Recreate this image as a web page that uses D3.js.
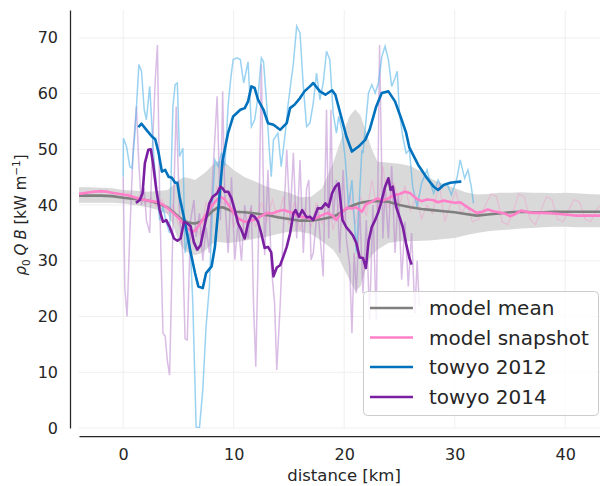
<!DOCTYPE html>
<html>
<head>
<meta charset="utf-8">
<script src="https://cdn.jsdelivr.net/npm/d3@7"></script>
<style>
  body { margin: 0; background: #fff; }
  text { font-family: "DejaVu Sans", sans-serif; fill: #262626; }
</style>
</head>
<body>
<div id="chart"></div>
<script>
// model: ensemble mean and spread
const bandX = [-4,-3,-2,-1,0,1,2,3,4,4.5,5,5.5,6,6.5,7,7.5,8,8.5,9,9.5,10,11,12,13,14,15,16,17,18,19,19.5,20,20.5,21,21.5,22,22.5,23,24,25,26,27,28,29,30,31,32,33,34,35,36,37,38,39,40,41,42,43.2];
const meanY = [41.7,41.7,41.7,41.6,41.3,41.1,40.9,40.4,39.6,38.8,37.9,37.2,36.8,36.7,37.0,37.8,38.8,39.5,39.6,39.2,38.8,38.7,38.5,38.2,37.8,37.5,37.2,37.2,37.5,37.9,38.4,39.1,39.7,40.1,40.4,40.6,40.7,40.7,40.6,40.0,39.6,39.3,39.1,38.9,38.7,38.4,38.1,38.3,38.5,38.7,38.8,38.7,38.7,38.8,38.8,38.8,38.8,38.8];
const bandHi = [43.2,43.2,43.1,43.0,42.7,42.6,42.4,42.5,42.7,43.5,44.5,45.0,44.8,44.5,45.2,46.0,47.0,47.8,48.0,47.2,46.3,45.0,44.2,43.3,42.7,42.2,41.4,41.5,43.0,47.6,50.5,53.5,56.0,57.2,56.0,53.0,50.0,47.8,47.6,47.4,47.0,46.0,44.6,43.8,43.0,42.3,41.9,42.0,42.2,42.2,42.3,42.2,42.2,42.1,42.2,42.1,42.0,41.9];
const bandLo = [40.4,40.4,40.4,40.4,40.3,40.0,39.7,39.2,38.4,36.5,33.5,32.0,31.3,31.0,31.3,32.0,33.0,33.4,33.3,33.2,33.3,33.6,34.0,34.3,34.8,35.2,35.2,34.8,33.5,32.0,30.5,28.5,26.5,24.5,25.5,29.0,31.0,32.0,33.2,33.5,33.5,33.6,33.7,33.9,34.1,34.6,35.0,35.3,35.5,35.6,35.8,35.9,36.0,36.1,36.1,36.0,36.0,36.0];

// model snapshot (smoothed and raw)
const snapX = [-4,-3,-2,-1.5,-1,0,0.5,1,1.5,2,2.5,3,3.5,4,4.5,5,5.5,6,6.3,6.6,7,7.5,8,8.5,8.8,9.2,9.6,10,10.5,11,11.5,12,12.5,13,13.5,14,14.5,15,15.5,16,16.5,17,17.5,18,18.5,19,19.3,19.7,20.2,20.7,21.1,21.6,22,22.5,23,23.5,24,24.5,25,25.5,26,26.5,27,27.5,28,28.5,29,29.5,30,30.5,31,31.5,32,32.5,33,33.5,34,34.5,35,35.5,36,36.5,37,38,39,40,41,42,43.2];
const snapY = [42.0,42.3,42.5,42.4,42.2,41.9,41.7,41.4,41.1,40.9,40.7,40.6,40.2,39.5,38.6,37.7,36.5,35.5,35.2,35.6,36.8,38.3,39.8,41.0,41.5,41.0,39.8,38.6,37.5,37.0,37.2,37.5,38.0,38.6,38.5,38.9,39.1,38.8,38.5,37.9,37.8,37.5,37.7,38.2,38.6,38.0,37.3,38.5,39.5,39.4,39.6,38.8,40.2,40.6,41.2,40.8,41.2,41.8,42.0,42.4,42.1,41.2,40.7,41.0,40.9,40.5,40.8,40.6,40.4,40.5,39.8,39.2,38.6,38.8,39.2,38.9,38.7,38.5,38.0,38.4,39.0,38.8,38.6,38.6,38.5,38.3,38.1,38.1,38.1];
const snapRawX = [-4,-3.5,-3,-2.5,-2,-1.5,-1,-0.5,0,0.5,1,1.5,2,2.5,3,3.5,4,4.5,5,5.5,6,6.5,7,7.5,8,8.5,9,9.5,10,10.5,11,11.5,12,12.5,13,13.5,14,14.5,15,15.5,16,16.5,17,17.5,18,18.5,19,19.5,20,20.5,21,21.5,22,22.5,23,23.5,24,24.5,25,25.5,26,26.5,27,27.5,28,28.6,29.1,29.6,30.1,30.6,31.1,31.6,32.2,32.8,33.3,33.8,34.3,34.8,35.3,35.8,36.3,36.8,37.3,37.8,38.3,38.8,39.3,39.8,40.3,40.8,41.3,41.8,42.3,42.8,43.2];
const snapRawY = [41.8,42.0,42.4,42.6,42.3,42.7,42.0,42.1,41.5,42.2,41.0,41.8,40.2,41.3,39.8,41.0,38.5,40.0,36.5,38.0,33.5,36.0,34.5,40.5,38.0,43.5,40.0,42.5,36.0,39.0,35.0,39.5,36.0,40.5,37.0,41.0,37.5,41.5,36.5,40.5,35.5,39.5,36.0,40.5,36.5,41.0,35.5,40.0,37.0,42.0,36.5,41.5,38.0,44.5,39.0,47.0,39.5,44.0,40.0,43.5,39.0,41.5,37.5,40.0,38.5,44.0,37.0,40.0,42.5,38.5,40.0,37.0,37.5,40.0,42.0,41.5,37.0,36.5,39.0,42.0,41.5,37.5,36.5,39.0,41.5,41.0,37.5,37.0,39.0,41.0,40.5,37.5,37.0,39.0,40.0];

// towyo 2012 (raw and smoothed)
const t12RawX = [0,0.02,0.3,0.6,0.8,1.06,1.27,1.42,1.66,1.9,2.1,2.4,2.7,3.0,3.3,3.6,3.9,4.2,4.5,4.7,4.9,5.1,5.4,5.6,5.9,6.1,6.3,6.6,6.9,7.2,7.5,7.8,8.1,8.3,8.6,8.9,9.2,9.5,9.75,9.95,10.3,10.6,10.9,11.3,11.6,11.9,12.2,12.5,12.7,13.0,13.2,13.4,13.6,14.0,14.3,14.7,14.9,15.4,15.7,16.0,16.3,16.6,16.9,17.2,17.5,17.8,18.1,18.4,18.7,19.0,19.3,19.5,19.8,20.1,20.4,20.7,21.1,21.4,21.6,21.7,22.2,22.5,22.8,23.1,23.4,23.7,24.0,24.3,24.6,24.8,25.0,25.3,25.6,25.9,26.2,26.6,27.0,27.5,27.8,28.1,28.5,28.8,29.3,29.7,30.2,30.5,30.9,31.2,31.5,31.7];
const t12RawY = [45.1,52.0,50.5,46.9,46.6,52.9,60.0,65.2,64.0,57.1,55.3,61.3,50.5,43.3,37.3,39.7,36.8,35.0,57.7,61.6,61.9,48.7,50.2,31.4,35.0,31.4,22.4,0.2,0.0,6.8,18.2,25.4,40.9,48.1,46.9,49.4,47.0,58.0,63.0,66.1,66.4,66.1,61.9,65.7,54.1,55.3,59.5,66.4,65.7,57.7,50.5,45.1,51.7,52.9,46.9,53.5,57.7,65.4,72.1,70.9,61.3,54.1,54.7,58.3,63.7,58.9,61.9,67.6,66.1,56.5,52.9,55.9,53.5,48.1,39.7,44.5,31.5,42.1,49.9,49.3,60.1,61.6,60.1,61.9,66.6,68.5,66.1,61.3,62.8,64.0,56.5,52.3,49.3,49.9,43.3,39.7,43.9,46.3,43.9,42.1,44.5,43.3,43.9,41.8,44.8,48.1,44.8,46.3,43.3,40.3];
const t12X = [1.37,1.66,2.1,2.6,2.9,3.2,3.5,3.8,4.1,4.4,4.7,4.9,5.1,5.6,6.0,6.5,6.8,7.2,7.5,8.0,8.3,8.6,9.0,9.5,9.95,10.6,11.0,11.3,11.6,11.9,12.2,12.7,13.1,13.6,14.2,14.8,15.1,15.5,16.0,16.4,16.9,17.2,17.8,18.3,18.9,19.2,19.8,20.2,20.7,21.3,21.9,22.3,22.9,23.4,24.0,24.6,25.2,25.6,25.9,26.7,27.5,28.1,28.5,29.0,29.6,30.5,30.6];
const t12Y = [54.0,54.6,53.5,52.3,51.8,49.4,46.0,46.3,45.1,44.9,44.0,44.0,41.5,36.8,32.5,27.8,25.4,25.1,27.8,29.0,32.5,39.1,48.1,53.0,55.9,57.1,57.4,58.6,61.3,61.0,58.9,57.1,54.7,54.4,53.5,54.7,57.4,58.0,59.2,60.4,61.3,61.9,60.4,59.8,60.6,59.8,55.3,52.3,49.6,50.5,51.7,53.5,57.7,60.1,60.4,58.6,55.3,53.0,50.3,47.2,44.8,43.3,42.7,43.6,44.0,44.2,44.2];

// towyo 2014 (raw and smoothed)
const t14RawX = [0.0,0.15,0.35,0.6,0.9,1.2,1.4,1.65,1.9,2.1,2.4,2.6,2.9,3.1,3.3,3.6,3.8,4.0,4.2,4.5,4.8,5.1,5.4,5.6,5.8,6.1,6.4,6.6,6.9,7.2,7.5,7.8,8.1,8.5,8.8,9.0,9.2,9.5,9.8,10.1,10.4,10.7,11.0,11.3,11.6,11.8,12.0,12.3,12.5,12.8,13.1,13.4,13.7,13.9,14.2,14.5,14.8,15.1,15.4,15.7,16.0,16.3,16.6,16.8,17.0,17.2,17.6,18.1,18.4,18.6,18.8,19.0,19.3,19.6,19.9,20.2,20.5,20.7,20.9,21.1,21.4,21.7,22.0,22.3,22.6,22.9,23.2,23.5,23.7,24.0,24.3,24.6,24.9,25.2,25.5,25.8,26.1,26.4,26.6,26.8];
const t14RawY = [45.0,25.0,20.0,35.0,50.0,57.7,48.0,40.0,43.0,37.3,35.0,48.0,62.4,68.7,41.0,17.0,16.5,12.0,9.5,36.1,57.7,38.0,31.0,16.0,15.8,37.3,40.9,34.3,38.5,30.0,36.0,31.4,45.0,59.5,37.3,60.4,41.0,31.4,45.0,30.2,37.0,30.0,40.0,34.0,40.0,21.8,11.0,39.0,65.2,31.0,46.3,29.0,22.4,10.4,21.8,36.0,49.9,37.3,49.4,34.0,48.1,31.4,43.0,44.5,30.2,31.4,40.0,27.2,57.1,34.0,57.1,37.3,44.5,31.4,46.3,34.0,29.0,17.0,31.4,24.2,40.0,24.2,37.3,19.4,40.0,19.4,68.7,34.0,43.0,34.0,47.0,31.4,42.0,26.6,37.0,25.4,35.0,20.5,30.0,22.0];
const t14X = [1.15,1.5,1.75,1.96,2.27,2.5,2.7,3.0,3.3,3.6,3.9,4.2,4.6,4.9,5.2,5.5,5.8,6.1,6.4,6.7,7.0,7.4,7.8,8.1,8.5,8.8,9.0,9.2,9.5,9.8,10.1,10.4,10.7,11.0,11.3,11.6,11.9,12.2,12.5,12.8,13.1,13.4,13.6,13.9,14.2,14.5,14.8,15.1,15.4,15.6,15.9,16.2,16.6,16.9,17.2,17.6,17.95,18.3,18.6,18.9,19.2,19.5,19.85,20.2,20.5,20.8,21.1,21.4,21.7,21.96,22.2,22.5,22.8,23.1,23.4,23.7,24.0,24.2,24.4,24.7,25.0,25.3,25.6,25.9,26.1];
const t14Y = [40.4,40.9,42.1,47.5,49.9,50.0,47.5,42.7,39.1,37.0,37.3,36.1,34.0,33.6,34.0,37.0,36.7,36.2,33.3,32.0,32.8,36.6,40.3,41.5,42.1,43.3,43.0,42.4,42.4,41.2,39.1,36.7,35.5,34.0,36.7,38.2,37.9,37.0,34.9,32.3,32.5,31.5,27.2,28.8,29.2,30.8,32.5,34.9,38.5,39.1,37.9,39.1,37.8,37.9,37.3,39.4,39.4,40.3,39.7,42.1,43.3,43.9,37.3,36.0,35.3,34.5,33.2,30.6,30.5,28.7,33.5,36.1,37.3,38.8,40.9,43.3,44.8,42.7,43.3,39.7,37.9,36.1,33.1,30.5,29.3];

const xTicks = [0, 10, 20, 30, 40];
const yTicks = [0, 10, 20, 30, 40, 50, 60, 70];
const legendNames = ["model mean", "model snapshot", "towyo 2012", "towyo 2014"];

const width = 600, height = 486;
const plot = {left: 79, right: 600, top: 10, bottom: 428};

const svg = d3.select("#chart").append("svg")
  .attr("width", width)
  .attr("height", height);

const x = d3.scaleLinear().domain([-4, 43.15]).range([plot.left, plot.right]);
const y = d3.scaleLinear().domain([0, 75]).range([plot.bottom, plot.top]);

// grid
svg.append("g").selectAll("line").data(xTicks).enter().append("line")
  .attr("x1", d => x(d)).attr("x2", d => x(d))
  .attr("y1", plot.top).attr("y2", plot.bottom)
  .attr("stroke", "#efefef").attr("stroke-width", 1);
svg.append("g").selectAll("line").data(yTicks).enter().append("line")
  .attr("x1", plot.left).attr("x2", plot.right)
  .attr("y1", d => y(d)).attr("y2", d => y(d))
  .attr("stroke", "#efefef").attr("stroke-width", 1);

svg.append("clipPath").attr("id", "clip")
  .append("rect")
  .attr("x", plot.left).attr("y", plot.top)
  .attr("width", plot.right - plot.left).attr("height", plot.bottom - plot.top);

const g = svg.append("g").attr("clip-path", "url(#clip)");

const zip = (xs, ys) => xs.map((d, i) => [d, ys[i]]);
const line = d3.line().x(d => x(d[0])).y(d => y(d[1]));

// spread of the model
const area = d3.area()
  .x((d, i) => x(bandX[i]))
  .y0((d, i) => y(bandLo[i]))
  .y1((d, i) => y(bandHi[i]));
g.append("path").datum(bandX)
  .attr("d", area)
  .attr("fill", "#d9d9d9");

// raw lines
g.append("path").datum(zip(snapRawX, snapRawY))
  .attr("d", line).attr("fill", "none")
  .attr("stroke", "#ff7fc8").attr("stroke-opacity", 0.3).attr("stroke-width", 1.2);
g.append("path").datum(zip(t14RawX, t14RawY))
  .attr("d", line).attr("fill", "none")
  .attr("stroke", "#b57bcc").attr("stroke-opacity", 0.5).attr("stroke-width", 1.5);
g.append("path").datum(zip(t12RawX, t12RawY))
  .attr("d", line).attr("fill", "none")
  .attr("stroke", "#56b4e9").attr("stroke-opacity", 0.6).attr("stroke-width", 1.5);

// smoothed lines
const main = [
  {x: bandX, y: meanY, color: "#7f7f7f"},
  {x: snapX, y: snapY, color: "#ff7fc8"},
  {x: t12X, y: t12Y, color: "#0072bd"},
  {x: t14X, y: t14Y, color: "#7b1fa2"}
];
main.forEach(s => {
  g.append("path").datum(zip(s.x, s.y))
    .attr("d", line).attr("fill", "none")
    .attr("stroke", s.color).attr("stroke-width", 2.6)
    .attr("stroke-linejoin", "round");
});

// axes
const xAxis = svg.append("g")
  .attr("transform", "translate(0,436)")
  .call(d3.axisBottom(x).tickValues(xTicks).tickSize(0).tickSizeOuter(0).tickPadding(13));
const yAxis = svg.append("g")
  .attr("transform", "translate(70,0)")
  .call(d3.axisLeft(y).tickValues(yTicks).tickSize(0).tickSizeOuter(0).tickPadding(12));
[xAxis, yAxis].forEach(a => {
  a.select(".domain").attr("stroke", "#262626").attr("stroke-width", 1.25);
  a.selectAll("text").attr("font-size", 16).attr("font-family", "DejaVu Sans").attr("fill", "#262626");
});

svg.append("text")
  .attr("x", 344).attr("y", 481)
  .attr("text-anchor", "middle")
  .attr("font-size", 16.5)
  .text("distance [km]");

const ylab = svg.append("text")
  .attr("transform", "translate(26,215) rotate(-90)")
  .attr("text-anchor", "middle")
  .attr("font-size", 15);
ylab.append("tspan").attr("font-style", "italic").text("ρ");
ylab.append("tspan").attr("font-size", 10.5).attr("dy", 3.5).text("0");
ylab.append("tspan").attr("font-style", "italic").attr("dy", -3.5).attr("dx", 4).text("Q");
ylab.append("tspan").attr("font-style", "italic").attr("dx", 4).text("B");
ylab.append("tspan").text(" [kW m");
ylab.append("tspan").attr("font-size", 10.5).attr("dy", -6).text("−1");
ylab.append("tspan").attr("dy", 6).text("]");

// legend
const legend = svg.append("g");
legend.append("rect")
  .attr("x", 363.5).attr("y", 291.5)
  .attr("width", 235).attr("height", 124)
  .attr("rx", 4)
  .attr("fill", "#fff").attr("fill-opacity", 0.8)
  .attr("stroke", "#cccccc").attr("stroke-width", 1);
const rowY = [308, 337.5, 367, 397];
legendNames.forEach((name, i) => {
  legend.append("line")
    .attr("x1", 370).attr("x2", 413)
    .attr("y1", rowY[i]).attr("y2", rowY[i])
    .attr("stroke", main[i].color).attr("stroke-width", 2.6);
  legend.append("text")
    .attr("x", 429).attr("y", rowY[i] + 7)
    .attr("font-size", 20)
    .text(name);
});
</script>
</body>
</html>
